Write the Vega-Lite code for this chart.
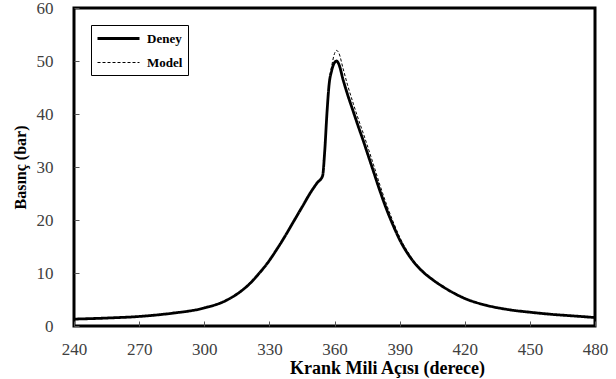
{
  "$schema": "https://vega.github.io/schema/vega-lite/v6.json",
  "autosize": "none",
  "width": 521,
  "height": 318,
  "padding": {"left": 74, "top": 8, "right": 21, "bottom": 53},
  "background": "white",
  "config": {
    "view": {"stroke": "black", "strokeWidth": 3},
    "font": "Liberation Serif, DejaVu Serif, serif",
    "axis": {"labelFont": "Liberation Serif, DejaVu Serif, serif", "titleFont": "Liberation Serif, DejaVu Serif, serif"},
    "legend": {"labelFont": "Liberation Serif, DejaVu Serif, serif"}
  },
  "datasets": {
    "curves": [
      {"angle": 240, "series": "Deney", "p": 1.3},
      {"angle": 255, "series": "Deney", "p": 1.5},
      {"angle": 270, "series": "Deney", "p": 1.8},
      {"angle": 285, "series": "Deney", "p": 2.4},
      {"angle": 300, "series": "Deney", "p": 3.4},
      {"angle": 310, "series": "Deney", "p": 4.8},
      {"angle": 317, "series": "Deney", "p": 6.6},
      {"angle": 321, "series": "Deney", "p": 8.0},
      {"angle": 325, "series": "Deney", "p": 9.8},
      {"angle": 329, "series": "Deney", "p": 11.8},
      {"angle": 333, "series": "Deney", "p": 14.2},
      {"angle": 337, "series": "Deney", "p": 16.8},
      {"angle": 341, "series": "Deney", "p": 19.6},
      {"angle": 345, "series": "Deney", "p": 22.4},
      {"angle": 349, "series": "Deney", "p": 25.2},
      {"angle": 352, "series": "Deney", "p": 27.0},
      {"angle": 354.5, "series": "Deney", "p": 28.3},
      {"angle": 355.5, "series": "Deney", "p": 33.0},
      {"angle": 356.5, "series": "Deney", "p": 40.0},
      {"angle": 357.5, "series": "Deney", "p": 45.5},
      {"angle": 358.7, "series": "Deney", "p": 48.2},
      {"angle": 360, "series": "Deney", "p": 49.7},
      {"angle": 361, "series": "Deney", "p": 50.0},
      {"angle": 362, "series": "Deney", "p": 49.4},
      {"angle": 364, "series": "Deney", "p": 46.4},
      {"angle": 366, "series": "Deney", "p": 43.7},
      {"angle": 368.7, "series": "Deney", "p": 40.4},
      {"angle": 371, "series": "Deney", "p": 37.6},
      {"angle": 373.3, "series": "Deney", "p": 34.9},
      {"angle": 375, "series": "Deney", "p": 32.8},
      {"angle": 378, "series": "Deney", "p": 29.1},
      {"angle": 381, "series": "Deney", "p": 25.4},
      {"angle": 384, "series": "Deney", "p": 22.0},
      {"angle": 387, "series": "Deney", "p": 19.0},
      {"angle": 390, "series": "Deney", "p": 16.3},
      {"angle": 395, "series": "Deney", "p": 12.9},
      {"angle": 400, "series": "Deney", "p": 10.5},
      {"angle": 405, "series": "Deney", "p": 8.8},
      {"angle": 410, "series": "Deney", "p": 7.4},
      {"angle": 415, "series": "Deney", "p": 6.2},
      {"angle": 420, "series": "Deney", "p": 5.2},
      {"angle": 430, "series": "Deney", "p": 3.9},
      {"angle": 440, "series": "Deney", "p": 3.1},
      {"angle": 450, "series": "Deney", "p": 2.6},
      {"angle": 460, "series": "Deney", "p": 2.2},
      {"angle": 470, "series": "Deney", "p": 1.9},
      {"angle": 480, "series": "Deney", "p": 1.6},
      {"angle": 240, "series": "Model", "p": 1.3},
      {"angle": 255, "series": "Model", "p": 1.5},
      {"angle": 270, "series": "Model", "p": 1.8},
      {"angle": 285, "series": "Model", "p": 2.4},
      {"angle": 300, "series": "Model", "p": 3.4},
      {"angle": 310, "series": "Model", "p": 4.8},
      {"angle": 317, "series": "Model", "p": 6.6},
      {"angle": 321, "series": "Model", "p": 8.0},
      {"angle": 325, "series": "Model", "p": 9.8},
      {"angle": 329, "series": "Model", "p": 11.8},
      {"angle": 333, "series": "Model", "p": 14.2},
      {"angle": 337, "series": "Model", "p": 16.8},
      {"angle": 341, "series": "Model", "p": 19.6},
      {"angle": 345, "series": "Model", "p": 22.4},
      {"angle": 349, "series": "Model", "p": 25.2},
      {"angle": 352, "series": "Model", "p": 27.0},
      {"angle": 354.5, "series": "Model", "p": 28.3},
      {"angle": 355.5, "series": "Model", "p": 33.0},
      {"angle": 356.5, "series": "Model", "p": 40.0},
      {"angle": 357.5, "series": "Model", "p": 45.8},
      {"angle": 358.7, "series": "Model", "p": 49.0},
      {"angle": 360, "series": "Model", "p": 51.4},
      {"angle": 361, "series": "Model", "p": 52.0},
      {"angle": 362, "series": "Model", "p": 51.5},
      {"angle": 364, "series": "Model", "p": 48.5},
      {"angle": 366, "series": "Model", "p": 45.5},
      {"angle": 368.7, "series": "Model", "p": 41.9},
      {"angle": 371, "series": "Model", "p": 39.0},
      {"angle": 373.3, "series": "Model", "p": 36.3},
      {"angle": 375, "series": "Model", "p": 34.2},
      {"angle": 378, "series": "Model", "p": 30.4},
      {"angle": 381, "series": "Model", "p": 26.5},
      {"angle": 384, "series": "Model", "p": 22.9},
      {"angle": 387, "series": "Model", "p": 19.7},
      {"angle": 390, "series": "Model", "p": 16.8},
      {"angle": 395, "series": "Model", "p": 13.2},
      {"angle": 400, "series": "Model", "p": 10.7},
      {"angle": 405, "series": "Model", "p": 8.9},
      {"angle": 410, "series": "Model", "p": 7.4},
      {"angle": 415, "series": "Model", "p": 6.2},
      {"angle": 420, "series": "Model", "p": 5.2},
      {"angle": 430, "series": "Model", "p": 3.9},
      {"angle": 440, "series": "Model", "p": 3.1},
      {"angle": 450, "series": "Model", "p": 2.6},
      {"angle": 460, "series": "Model", "p": 2.2},
      {"angle": 470, "series": "Model", "p": 1.9},
      {"angle": 480, "series": "Model", "p": 1.6}
    ]
  },
  "data": {"name": "curves"},
  "mark": {"type": "line", "interpolate": "monotone", "clip": true},
  "encoding": {
    "x": {
      "field": "angle",
      "type": "quantitative",
      "scale": {"domain": [240, 480], "nice": false, "zero": false},
      "axis": {
        "values": [240, 270, 300, 330, 360, 390, 420, 450, 480],
        "title": "Krank Mili Açısı (derece)",
        "titleFontSize": 18,
        "titleFontWeight": "bold",
        "titleColor": "black",
        "titleX": 313,
        "titleY": 47,
        "titleBaseline": "alphabetic",
        "titleAnchor": "middle",
        "labelFontSize": 17,
        "labelColor": "#404040",
        "labelPadding": 20,
        "labelFlush": false,
        "tickSize": -5,
        "tickColor": "#555555",
        "tickWidth": 1,
        "domain": false,
        "grid": false
      }
    },
    "y": {
      "field": "p",
      "type": "quantitative",
      "scale": {"domain": [0, 60], "nice": false},
      "axis": {
        "values": [0, 10, 20, 30, 40, 50, 60],
        "title": "Basınç (bar)",
        "titleFontSize": 16,
        "titleFontWeight": "bold",
        "titleColor": "black",
        "titlePadding": 8,
        "labelFontSize": 17,
        "labelColor": "#404040",
        "labelPadding": 26,
        "tickSize": -5,
        "tickColor": "#555555",
        "tickWidth": 1,
        "domain": false,
        "grid": false
      }
    },
    "color": {
      "field": "series",
      "type": "nominal",
      "scale": {"domain": ["Deney", "Model"], "range": ["black", "black"]},
      "legend": {
        "title": null,
        "orient": "none",
        "legendX": 17,
        "legendY": 17,
        "fillColor": "white",
        "strokeColor": "black",
        "padding": 5,
        "symbolType": "M-1,0H5",
        "symbolSize": 196,
        "labelFontSize": 13,
        "labelFontWeight": "bold",
        "labelColor": "black",
        "labelOffset": 34,
        "rowPadding": 9
      }
    },
    "strokeDash": {
      "field": "series",
      "type": "nominal",
      "scale": {"domain": ["Deney", "Model"], "range": [[1, 0], [3, 2]]},
      "legend": null
    },
    "strokeWidth": {
      "field": "series",
      "type": "nominal",
      "scale": {"domain": ["Deney", "Model"], "range": [2.8, 1]},
      "legend": null
    }
  }
}
